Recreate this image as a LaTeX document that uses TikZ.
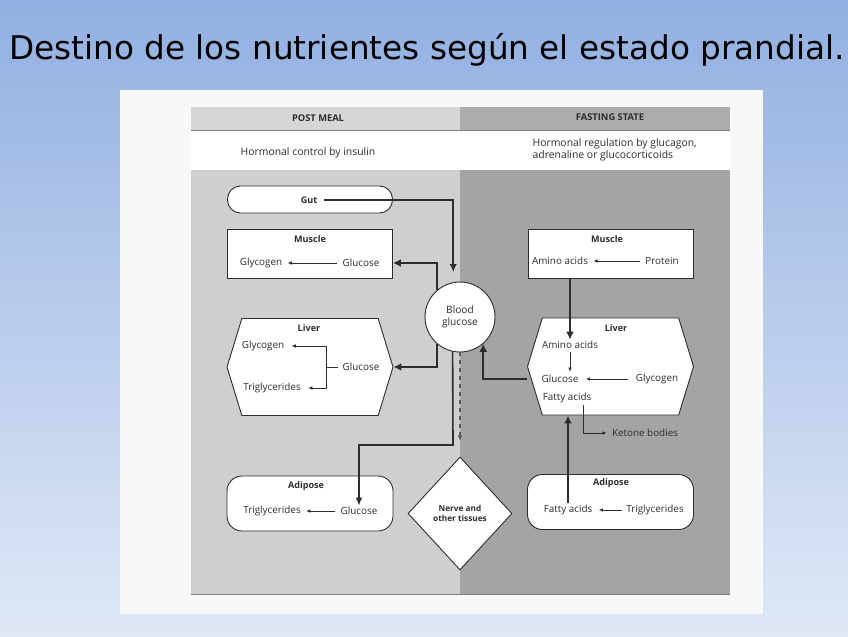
\documentclass[tikz,border=0pt]{standalone}
\usepackage{fontspec}
\setmainfont{DejaVu Sans}
\newfontfamily\scanfont{Open Sans}
\usetikzlibrary{arrows.meta,shapes.geometric,shapes.symbols}

\definecolor{slidetop}{RGB}{146,176,226}
\definecolor{slidebot}{RGB}{224,232,245}
\definecolor{scanwhite}{RGB}{248,248,248}
\definecolor{fedhead}{RGB}{214,214,214}
\definecolor{fasthead}{RGB}{172,172,172}
\definecolor{fedgray}{RGB}{207,207,207}
\definecolor{fastgray}{RGB}{164,164,164}
\definecolor{ink}{RGB}{45,45,45}

\begin{document}
\begin{tikzpicture}[
    x=0.75pt, y=-0.75pt,
    box/.style={draw=ink, line width=0.68pt, fill=white, inner sep=0pt},
    pill/.style={box, rounded corners=9.75pt, minimum width=123.75pt, minimum height=20.25pt},
    tank/.style={box, minimum width=123.75pt, minimum height=36.75pt},
    liver/.style={box, signal, signal to=west and east, signal pointer angle=146, minimum width=124.5pt, minimum height=72.75pt},
    fat/.style={box, rounded corners=11.25pt, minimum width=124.5pt, minimum height=41.25pt},
    organ/.style={font=\scanfont\fontsize{6.8}{8}\selectfont\bfseries, text=ink, inner sep=1pt},
    item/.style={font=\scanfont\fontsize{7.4}{9}\selectfont, text=ink, inner sep=1pt},
    head/.style={font=\scanfont\fontsize{7.8}{9.2}\selectfont, text=ink, inner sep=1pt},
    big flow/.style={draw=ink, line width=1.8pt, -{Latex[length=6pt, width=6pt]}},
    mid flow/.style={draw=ink, line width=1.2pt, -{Latex[length=6pt, width=5.25pt]}},
    small flow/.style={draw=ink, line width=0.45pt, -{Latex[length=3pt, width=2.6pt]}}
]
\useasboundingbox (0,0) rectangle (848,636);

% diapositiva y escaneo
\shade[top color=slidetop, bottom color=slidebot] (0,0) rectangle (848,636);
\node[font=\fontsize{24.5}{28}\selectfont, text=black] (title) at (427,50) {Destino de los nutrientes según el estado prandial.};
\fill[scanwhite] (120,90) rectangle (763,614);
\fill[fedhead] (191,107) rectangle (460,130);
\fill[fasthead] (460,107) rectangle (730,130);
\fill[white] (191,130) rectangle (730,170);
\fill[fedgray] (191,170) rectangle (460,594);
\fill[fastgray] (460,170) rectangle (730,594);
\draw[gray, line width=0.6pt] (191,130) -- (730,130);
\draw[gray, line width=0.6pt] (191,594) -- (730,594);

% cabeceras
\node[head, font=\scanfont\fontsize{7}{8}\selectfont\bfseries] (fed) at (318,118) {POST MEAL};
\node[head, font=\scanfont\fontsize{7}{8}\selectfont\bfseries] (fast) at (610,117) {FASTING STATE};
\node[head] (insulin) at (308,153) {Hormonal control by insulin};
\node[head, align=left, anchor=west] (glucagon) at (531,150) {Hormonal regulation by glucagon,\\adrenaline or glucocorticoids};

% cajas
\node[pill] (gutbox) at (310,199.5) {};
\node[tank] (lmusbox) at (310,253.5) {};
\node[liver] (llivbox) at (310,367) {};
\node[fat] (ladibox) at (310,503.5) {};
\node[tank] (rmusbox) at (610.5,253.5) {};
\node[liver] (rlivbox) at (610.5,366.5) {};
\node[fat] (radibox) at (610.5,502) {};
\node[box, circle, minimum size=52.5pt, align=center, font=\scanfont\fontsize{7.6}{9.2}\selectfont, text=ink] (blood) at (460,317) {Blood\\glucose};
\node[box, diamond, minimum width=78pt, minimum height=84.75pt, align=center, font=\scanfont\fontsize{6.2}{8}\selectfont\bfseries, text=ink] (nerve) at (460,513.5) {Nerve and\\other tissues};

% textos, lado izquierdo
\node[organ] (gut) at (309,200) {Gut};
\node[organ] (lmus) at (310,239) {Muscle};
\node[item] (lmgly) at (261,263) {Glycogen};
\node[item] (lmglu) at (361,263) {Glucose};
\node[organ] (lliv) at (309,328) {Liver};
\node[item] (llgly) at (263,346) {Glycogen};
\node[item] (lltri) at (272,388) {Triglycerides};
\node[item] (llglu) at (361,367) {Glucose};
\node[organ] (ladi) at (306,486) {Adipose};
\node[item] (latri) at (272,511) {Triglycerides};
\node[item] (laglu) at (359,511) {Glucose};

% textos, lado derecho
\node[organ] (rmus) at (607,239) {Muscle};
\node[item] (rmami) at (560,261) {Amino acids};
\node[item] (rmpro) at (662,261) {Protein};
\node[organ] (rliv) at (616,328) {Liver};
\node[item] (rlami) at (570,345) {Amino acids};
\node[item] (rlglu) at (560,379) {Glucose};
\node[item] (rlgly) at (657,379) {Glycogen};
\node[item] (rlfat) at (567,398) {Fatty acids};
\node[item] (ketone) at (645,433) {Ketone bodies};
\node[organ] (radi) at (611,483) {Adipose};
\node[item] (rafat) at (568,510) {Fatty acids};
\node[item] (ratri) at (655,510) {Triglycerides};

% flechas finas dentro de las cajas
\draw[small flow, shorten <=3pt, shorten >=3pt] (lmglu) -- (lmgly);
\coordinate (lljoin) at (326,367);
\draw[draw=ink, line width=0.45pt, shorten <=2pt] (llglu.west) -- (lljoin);
\draw[small flow, shorten >=4.5pt] (lljoin) |- (llgly.east);
\draw[small flow, shorten >=4.5pt] (lljoin) |- (lltri.east);
\draw[small flow, shorten <=3pt, shorten >=3pt] (laglu) -- (latri);
\draw[small flow, shorten <=3pt, shorten >=3pt] (rmpro) -- (rmami);
\draw[small flow, shorten <=1.5pt, shorten >=1.5pt] (rlami.south) -- (rlami.south |- rlglu.north);
\draw[small flow, shorten <=4.5pt, shorten >=4.5pt] (rlgly) -- (rlglu);
\draw[small flow, shorten <=2.25pt, shorten >=3.75pt] (ratri) -- (rafat);
\draw[small flow, shorten >=3pt] ([xshift=12pt]rlfat.south) |- (ketone.west);

% flechas gruesas
\draw[mid flow, shorten <=4pt, shorten >=7.5pt] (gut.east) -| (blood.101);
\draw[big flow] (blood.131) |- (lmusbox.east |- lmglu);
\draw[big flow] (blood.229) |- (llivbox.east);
\coordinate (adibend) at (453,445);
\draw[mid flow] (blood.258) -- (adibend) -| (laglu.north);
\draw[gray!70!black, line width=1.05pt, dashed, -{Latex[length=3.75pt, width=3.75pt]}, shorten >=12pt] (blood.south) -- (nerve.north);
\draw[big flow] (rlivbox.west |- rlglu) -| (blood.-49);
\draw[big flow] (rmusbox.south -| rlami.north) -- (rlami.north);
\draw[big flow] (rafat.north) -- (rlivbox.south -| rafat.north);

\end{tikzpicture}
\end{document}
